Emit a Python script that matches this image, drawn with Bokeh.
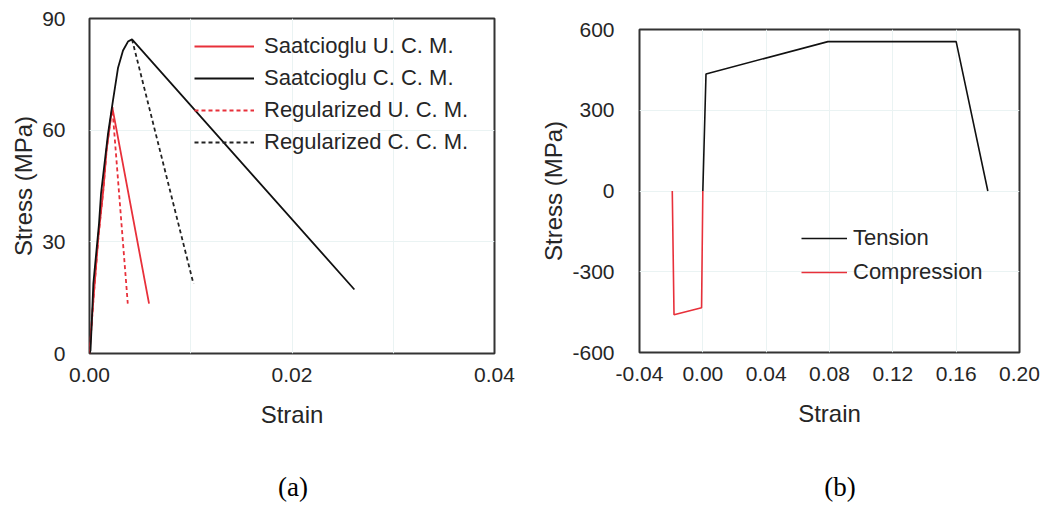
from bokeh.plotting import figure
from bokeh.layouts import row, column
from bokeh.models import Range1d, FixedTicker, NumeralTickFormatter, Legend, LegendItem, Div
from bokeh.embed import file_html
from bokeh.resources import INLINE

# ---------------- data: panel (a) ----------------
scm_c_strain = [0.0, 0.0001, 0.00022, 0.00038, 0.00094, 0.00114, 0.00183, 0.00232, 0.00282, 0.00331, 0.0038, 0.0042, 0.02616]
scm_c_stress = [0.0, 0.8, 8.1, 18.8, 34.9, 43.0, 59.1, 68.0, 76.8, 81.4, 83.8, 84.4, 17.2]

scm_u_strain = [0.0, 0.0004, 0.0009, 0.00136, 0.0017, 0.00225, 0.00588]
scm_u_stress = [0.0, 15.0, 32.0, 43.8, 55.0, 66.2, 13.4]

reg_u_strain = [0.0, 0.0004, 0.0009, 0.00136, 0.0017, 0.00225, 0.00378]
reg_u_stress = [0.0, 15.0, 32.0, 43.8, 55.0, 66.2, 13.4]

reg_c_strain = [0.0042, 0.01027]
reg_c_stress = [84.4, 18.7]

a_xticks = [0.0, 0.02, 0.04]
a_yticks = [0, 30, 60, 90]

# ---------------- data: panel (b) ----------------
ten_strain = [0.0, 0.002, 0.079, 0.160, 0.180]
ten_stress = [0.0, 435.0, 555.0, 555.0, 0.0]

comp_strain = [0.0, -0.0008, -0.0182, -0.0193]
comp_stress = [0.0, -434.0, -460.0, 0.0]

b_xticks = [-0.04, 0.0, 0.04, 0.08, 0.12, 0.16, 0.20]
b_yticks = [-600, -300, 0, 300, 600]

FONT = "Liberation Sans"
TXT = "#262626"
RED = "#e8303a"
GRID = "#eaf3f3"


def style(p, xticks, yticks, xfmt, yfmt, ytick_standoff, ylab_standoff):
    p.outline_line_color = "#333333"
    p.outline_line_width = 2
    for ax in (p.xaxis[0], p.yaxis[0]):
        ax.axis_line_color = None
        ax.major_tick_line_color = None
        ax.minor_tick_line_color = None
        ax.major_label_text_font = FONT
        ax.major_label_text_font_size = "21px"
        ax.major_label_text_color = TXT
        ax.axis_label_text_font = FONT
        ax.axis_label_text_font_size = "24px"
        ax.axis_label_text_font_style = "normal"
        ax.axis_label_text_color = TXT
    p.xaxis[0].ticker = FixedTicker(ticks=xticks)
    p.yaxis[0].ticker = FixedTicker(ticks=yticks)
    p.xaxis[0].formatter = NumeralTickFormatter(format=xfmt)
    p.yaxis[0].formatter = NumeralTickFormatter(format=yfmt)
    p.xaxis[0].major_label_standoff = 8
    p.xaxis[0].axis_label_standoff = 16
    p.yaxis[0].major_label_standoff = ytick_standoff
    p.yaxis[0].axis_label_standoff = ylab_standoff
    p.xgrid.grid_line_color = GRID
    p.ygrid.grid_line_color = GRID
    p.xgrid.grid_line_width = 1
    p.ygrid.grid_line_width = 1
    p.background_fill_color = "white"
    p.border_fill_color = "white"


def caption(text, width, center_x):
    pad = 2 * center_x - width
    html = ('<div style="width:%dpx;box-sizing:border-box;padding-left:%dpx;padding-top:32px;'
            'text-align:center;font-family:\'Liberation Serif\';font-size:27px;line-height:31px;'
            'color:black;">%s</div>') % (width, pad, text)
    return Div(text=html, width=width, height=66, margin=0)


# ---------------- panel (a) ----------------
pa = figure(width=520, height=440, output_backend="svg", toolbar_location=None,
            x_range=Range1d(0, 0.04), y_range=Range1d(0, 90),
            x_axis_label="Strain", y_axis_label="Stress (MPa)",
            min_border_left=89, min_border_right=26, min_border_top=18, min_border_bottom=87)
style(pa, a_xticks, a_yticks, "0.00", "0", 18, 2)
pa.xgrid.ticker = FixedTicker(ticks=[0.01, 0.02, 0.03])
pa.ygrid.ticker = FixedTicker(ticks=[30, 60])

r_ru = pa.line(reg_u_strain, reg_u_stress, line_color=RED, line_width=1.8, line_dash="4 3")
r_rc = pa.line(reg_c_strain, reg_c_stress, line_color="#222222", line_width=1.8, line_dash="4 3")
r_su = pa.line(scm_u_strain, scm_u_stress, line_color=RED, line_width=1.8)
r_sc = pa.line(scm_c_strain, scm_c_stress, line_color="#111111", line_width=1.8)

leg_a = Legend(items=[
    LegendItem(label="Saatcioglu U. C. M.", renderers=[r_su]),
    LegendItem(label="Saatcioglu C. C. M.", renderers=[r_sc]),
    LegendItem(label="Regularized U. C. M.", renderers=[r_ru]),
    LegendItem(label="Regularized C. C. M.", renderers=[r_rc]),
], location=(105, 198))
leg_a.glyph_width = 60
leg_a.glyph_height = 20
leg_a.label_standoff = 10
leg_a.spacing = 6
leg_a.padding = 0
leg_a.margin = 0
leg_a.label_text_font = FONT
leg_a.label_text_font_size = "22px"
leg_a.label_text_color = TXT
leg_a.background_fill_alpha = 0
leg_a.border_line_alpha = 0
pa.add_layout(leg_a, "center")

# ---------------- panel (b) ----------------
pb = figure(width=527, height=440, output_backend="svg", toolbar_location=None,
            x_range=Range1d(-0.04, 0.20), y_range=Range1d(-600, 600),
            x_axis_label="Strain", y_axis_label="Stress (MPa)",
            min_border_left=119, min_border_right=28, min_border_top=29, min_border_bottom=88)
style(pb, b_xticks, b_yticks, "0.00", "0", 19, 2)
pb.xgrid.ticker = FixedTicker(ticks=[0.0, 0.04, 0.08, 0.12, 0.16])
pb.ygrid.ticker = FixedTicker(ticks=[-300, 0, 300])

r_t = pb.line(ten_strain, ten_stress, line_color="#111111", line_width=1.6)
r_c = pb.line(comp_strain, comp_stress, line_color=RED, line_width=1.6)

leg_b = Legend(items=[
    LegendItem(label="Tension", renderers=[r_t]),
    LegendItem(label="Compression", renderers=[r_c]),
], location=(162, 67))
leg_b.glyph_width = 46
leg_b.glyph_height = 20
leg_b.label_standoff = 6
leg_b.spacing = 8
leg_b.padding = 0
leg_b.margin = 0
leg_b.label_text_font = FONT
leg_b.label_text_font_size = "22px"
leg_b.label_text_color = TXT
leg_b.background_fill_alpha = 0
leg_b.border_line_alpha = 0
pb.add_layout(leg_b, "center")

layout = row(column(pa, caption("(a)", 520, 293)),
             column(pb, caption("(b)", 527, 320)))
open("out.html", "w").write(file_html(layout, INLINE))
